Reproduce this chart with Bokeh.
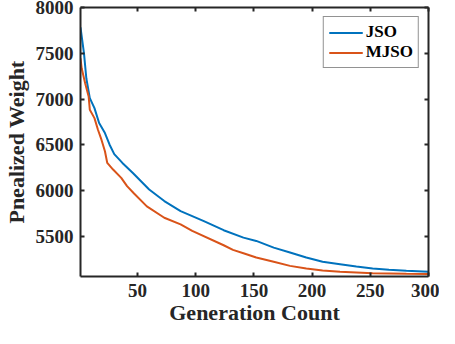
from bokeh.plotting import figure
from bokeh.models import Range1d, LinearAxis, FixedTicker
from bokeh.embed import file_html
from bokeh.resources import INLINE

# Data
jso_gen = [1, 4, 6, 9, 13, 17, 22, 26, 30, 37, 46, 53, 60, 73, 87, 107, 124, 141,
           152, 167, 181, 195, 209, 224, 238, 252, 266, 281, 300]
jso_val = [7783, 7500, 7228, 7011, 6902, 6739, 6630, 6503, 6400, 6304, 6195, 6105,
           6014, 5888, 5779, 5670, 5570, 5489, 5453, 5380, 5326, 5272, 5225, 5199,
           5174, 5152, 5138, 5127, 5116]

mjso_gen = [1, 2, 5, 8, 9, 13, 16, 19, 22, 24, 29, 36, 41, 47, 58, 73, 87, 97, 124,
            132, 141, 152, 167, 181, 195, 209, 224, 238, 252, 281, 300]
mjso_val = [7446, 7337, 7174, 7029, 6884, 6793, 6666, 6558, 6431, 6304, 6232, 6141,
            6051, 5970, 5830, 5706, 5634, 5562, 5406, 5355, 5318, 5272, 5225, 5181,
            5152, 5130, 5116, 5109, 5101, 5094, 5091]

x_ticks = [50, 100, 150, 200, 250, 300]
y_ticks = [5500, 6000, 6500, 7000, 7500, 8000]
x_label = "Generation Count"
y_label = "Pnealized Weight"

INK = "#262626"
FONT = "Liberation Serif"

p = figure(width=439, height=328, output_backend="svg", toolbar_location=None,
           x_range=Range1d(1, 300), y_range=Range1d(5065, 8000),
           min_border_left=78, min_border_right=11, min_border_top=7,
           min_border_bottom=52)
p.grid.visible = False
p.outline_line_color = None
p.background_fill_color = "white"

p.line(jso_gen, jso_val, line_color="#0072BD", line_width=2, legend_label="JSO")
p.line(mjso_gen, mjso_val, line_color="#D95319", line_width=2, legend_label="MJSO")

def style(ax, ticks):
    ax.ticker = FixedTicker(ticks=ticks)
    ax.axis_line_color = INK
    ax.axis_line_width = 2
    ax.major_tick_line_color = INK
    ax.major_tick_line_width = 2
    ax.major_tick_in = 4
    ax.major_tick_out = 0
    ax.minor_tick_line_color = None
    ax.major_label_text_color = INK
    ax.major_label_text_font = FONT
    ax.major_label_text_font_style = "bold"
    ax.major_label_text_font_size = "19px"
    ax.axis_label_text_color = INK
    ax.axis_label_text_font = FONT
    ax.axis_label_text_font_style = "bold"
    ax.axis_label_text_font_size = "22px"

style(p.xaxis[0], x_ticks)
style(p.yaxis[0], y_ticks)
p.xaxis[0].axis_label = x_label
p.yaxis[0].axis_label = y_label
p.xaxis[0].major_label_standoff = 7
p.xaxis[0].axis_label_standoff = 0
p.yaxis[0].major_label_standoff = 7
p.yaxis[0].axis_label_standoff = 4

top = LinearAxis()
right = LinearAxis()
style(top, x_ticks)
style(right, y_ticks)
for ax in (top, right):
    ax.major_label_text_font_size = "0px"
    ax.major_label_standoff = 0
    ax.axis_label_standoff = 0
p.add_layout(top, "above")
p.add_layout(right, "right")

lg = p.legend[0]
lg.location = "top_right"
lg.margin = 9
lg.padding = 5
lg.spacing = 0
lg.glyph_width = 34
lg.glyph_height = 19
lg.label_height = 19
lg.label_standoff = 3
lg.label_text_font = FONT
lg.label_text_font_style = "bold"
lg.label_text_font_size = "17px"
lg.label_text_color = "black"
lg.border_line_color = INK
lg.border_line_width = 1
lg.background_fill_alpha = 1

open("out.html", "w").write(file_html(p, INLINE))
